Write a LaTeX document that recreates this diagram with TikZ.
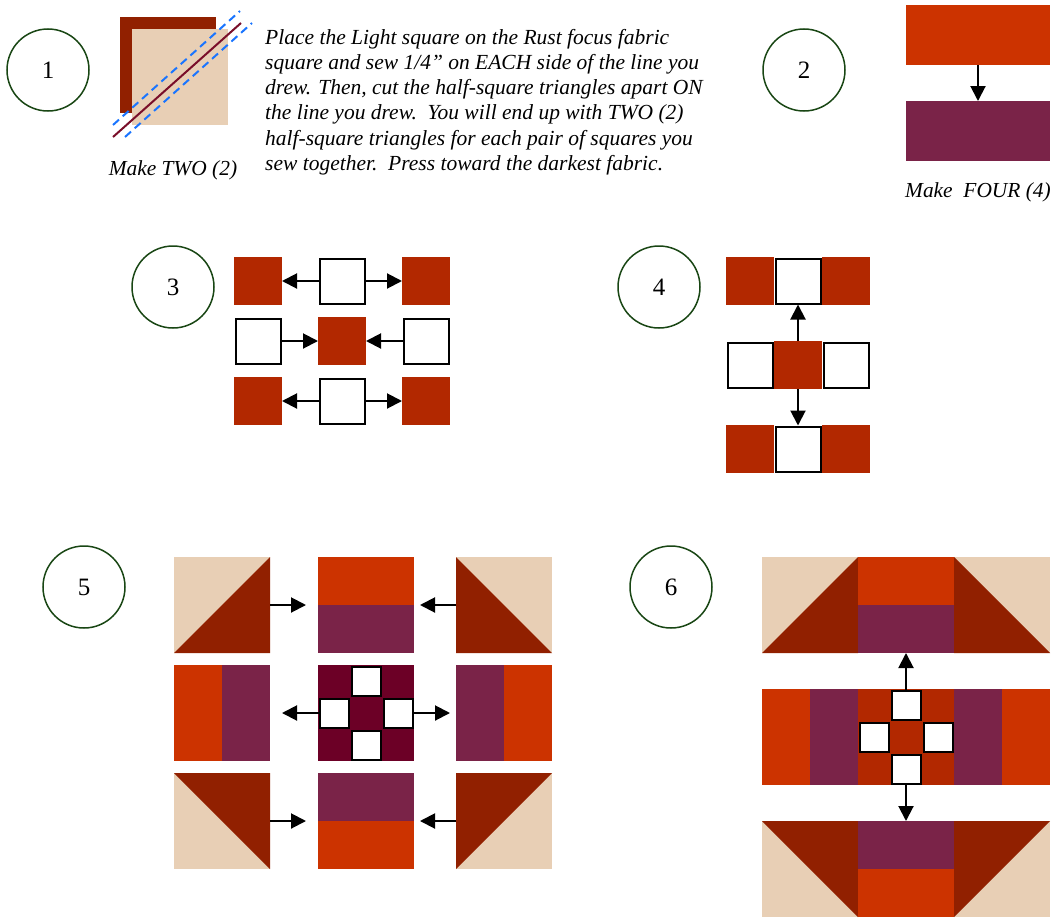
\documentclass[tikz,border=0pt]{standalone}
\usepackage{fontspec}
\setmainfont{Liberation Serif}
\usetikzlibrary{arrows.meta}
\definecolor{cOrange}{RGB}{204,51,0}
\definecolor{cPurple}{RGB}{122,35,72}
\definecolor{cDark}{RGB}{145,32,0}
\definecolor{cLight}{RGB}{232,207,181}
\definecolor{cRust}{RGB}{178,40,0}
\definecolor{cMaroon}{RGB}{108,0,38}
\definecolor{cGreen}{RGB}{25,70,20}
\definecolor{cBlue}{RGB}{26,117,255}
\definecolor{cSeam}{RGB}{122,15,42}
\begin{document}
\begin{tikzpicture}[x=1pt,y=-1pt,
  num/.style={circle, draw=cGreen, line width=1.5pt, minimum size=82pt, inner sep=0pt, font=\fontsize{25}{25}\selectfont},
  patch/.style={draw=none, inner sep=0pt, outer sep=0pt, minimum size=#1},
  patch/.default=48,
  bar/.style={draw=none, inner sep=0pt, outer sep=0pt, minimum width=#1},
  wsq/.style={draw=black, line width=2pt, fill=white, inner sep=0pt, minimum size=#1},
  wsq/.default=45,
  arr/.style={line width=2pt, -{Triangle[length=15pt,width=15pt]}},
  captext/.style={font=\fontsize{21.4}{24}\selectfont\itshape},
  sew/.style={cBlue, line width=2pt, dash pattern=on 8pt off 5pt}
]
\useasboundingbox (0,0) rectangle (1055,918);

% ---------- Step 1 ----------
\node[num] (n1) at (48,70) {1};
\node[patch=96, fill=cDark] (s1a) at (168,65) {};
\node[patch=96, fill=cLight] (s1b) at (180,77) {};
\coordinate (l1a) at (113,137); \coordinate (l1b) at (241,23);
\coordinate (d1a) at (113,125); \coordinate (d1b) at (240,11);
\coordinate (e1a) at (125,137); \coordinate (e1b) at (252,23);
\draw[sew] (d1a) -- (d1b);
\draw[sew] (e1a) -- (e1b);
\draw[cSeam, line width=2pt] (l1a) -- (l1b);
\node[captext] (t1) at (173,170) {Make TWO (2)};
\node[anchor=north west, inner sep=0pt, align=left, font=\fontsize{21.5}{25.2}\selectfont\itshape] (p1) at (265,29)
 {Place the Light square on the Rust focus fabric\\
  square and sew 1/4” on EACH side of the line you\\
  drew. Then, cut the half-square triangles apart ON\\
  the line you drew.\ \ You will end up with TWO (2)\\
  half-square triangles for each pair of squares you\\
  sew together.\ \ Press toward the darkest fabric.};

% ---------- Step 2 ----------
\node[num] (n2) at (804,70) {2};
\node[bar=144, minimum height=60, fill=cOrange] (o2) at (978,35) {};
\node[bar=144, minimum height=60, fill=cPurple] (p2) at (978,131) {};
\draw[arr] (o2.south) -- (p2.north);
\node[captext] (t2) at (978,192) {Make\ \ FOUR (4)};

% ---------- Step 3 ----------
\node[num] (n3) at (173,287) {3};
\node[patch, fill=cRust] (r3a) at (258,281) {};
\node[wsq] (w3a) at (342,281) {};
\node[patch, fill=cRust] (r3b) at (426,281) {};
\node[wsq] (w3c) at (258,341) {};
\node[patch, fill=cRust] (r3c) at (342,341) {};
\node[wsq] (w3d) at (426,341) {};
\node[patch, fill=cRust] (r3d) at (258,401) {};
\node[wsq] (w3e) at (342,401) {};
\node[patch, fill=cRust] (r3e) at (426,401) {};
\draw[arr] (w3a.west) -- (r3a.east);
\draw[arr] (w3a.east) -- (r3b.west);
\draw[arr] (w3c.east) -- (r3c.west);
\draw[arr] (w3d.west) -- (r3c.east);
\draw[arr] (w3e.west) -- (r3d.east);
\draw[arr] (w3e.east) -- (r3e.west);

% ---------- Step 4 ----------
\node[num] (n4) at (659,287) {4};
\node[patch, fill=cRust] (r4a) at (750,281) {};
\node[patch, fill=cRust] (r4b) at (846,281) {};
\node[wsq] (w4a) at (798,281) {};
\node[wsq] (w4b) at (750,365) {};
\node[patch, fill=cRust] (r4m) at (798,365) {};
\node[wsq] (w4c) at (846,365) {};
\node[patch, fill=cRust] (r4c) at (750,449) {};
\node[patch, fill=cRust] (r4d) at (846,449) {};
\node[wsq] (w4d) at (798,449) {};
\draw[arr] (r4m.north) -- (w4a.south);
\draw[arr] (r4m.south) -- (w4d.north);

% ---------- Step 5 ----------
\node[num] (n5) at (84,587) {5};
% top row
\node[patch=96] (h5a) at (222,605) {};
\fill[cLight] (h5a.north west) rectangle (h5a.south east);
\fill[cDark] (h5a.south west) -- (h5a.north east) -- (h5a.south east) -- cycle;
\node[bar=96, minimum height=48, fill=cOrange] (o5a) at (366,581) {};
\node[bar=96, minimum height=48, fill=cPurple] (p5a) at (366,629) {};
\node[patch=96] (h5b) at (504,605) {};
\fill[cLight] (h5b.north west) rectangle (h5b.south east);
\fill[cDark] (h5b.north west) -- (h5b.south east) -- (h5b.south west) -- cycle;
% middle row
\node[bar=48, minimum height=96, fill=cOrange] (o5b) at (198,713) {};
\node[bar=48, minimum height=96, fill=cPurple] (p5b) at (246,713) {};
\node[patch=96, fill=cMaroon] (m5) at (366,713) {};
\node[wsq=29] (w5t) at (366,681) {};
\node[wsq=29] (w5l) at (334,713) {};
\node[wsq=29] (w5r) at (398,713) {};
\node[wsq=29] (w5b) at (366,745) {};
\node[bar=48, minimum height=96, fill=cPurple] (p5c) at (480,713) {};
\node[bar=48, minimum height=96, fill=cOrange] (o5c) at (528,713) {};
% bottom row
\node[patch=96] (h5c) at (222,821) {};
\fill[cLight] (h5c.north west) rectangle (h5c.south east);
\fill[cDark] (h5c.north west) -- (h5c.north east) -- (h5c.south east) -- cycle;
\node[bar=96, minimum height=48, fill=cPurple] (p5d) at (366,797) {};
\node[bar=96, minimum height=48, fill=cOrange] (o5d) at (366,845) {};
\node[patch=96] (h5d) at (504,821) {};
\fill[cLight] (h5d.north west) rectangle (h5d.south east);
\fill[cDark] (h5d.north west) -- (h5d.north east) -- (h5d.south west) -- cycle;
% arrows
\coordinate (c5a) at (306,605); \coordinate (c5b) at (420,605);
\coordinate (c5c) at (282,713); \coordinate (c5d) at (450,713);
\coordinate (c5e) at (306,821); \coordinate (c5f) at (420,821);
\draw[arr] (h5a.east) -- (c5a);
\draw[arr] (h5b.west) -- (c5b);
\draw[arr] (w5l.west) -- (c5c);
\draw[arr] (w5r.east) -- (c5d);
\draw[arr] (h5c.east) -- (c5e);
\draw[arr] (h5d.west) -- (c5f);

% ---------- Step 6 ----------
\node[num] (n6) at (671,587) {6};
% top row
\node[patch=96] (h6a) at (810,605) {};
\fill[cLight] (h6a.north west) rectangle (h6a.south east);
\fill[cDark] (h6a.south west) -- (h6a.north east) -- (h6a.south east) -- cycle;
\node[bar=96, minimum height=48, fill=cOrange] (o6a) at (906,581) {};
\node[bar=96, minimum height=48, fill=cPurple] (p6a) at (906,629) {};
\node[patch=96] (h6b) at (1002,605) {};
\fill[cLight] (h6b.north west) rectangle (h6b.south east);
\fill[cDark] (h6b.north west) -- (h6b.south east) -- (h6b.south west) -- cycle;
% middle row
\node[bar=48, minimum height=96, fill=cOrange] (o6b) at (786,737) {};
\node[bar=48, minimum height=96, fill=cPurple] (p6b) at (834,737) {};
\node[patch=96, fill=cRust] (m6) at (906,737) {};
\node[wsq=29] (w6t) at (906,705) {};
\node[wsq=29] (w6l) at (874,737) {};
\node[wsq=29] (w6r) at (938,737) {};
\node[wsq=29] (w6b) at (906,769) {};
\node[bar=48, minimum height=96, fill=cPurple] (p6c) at (978,737) {};
\node[bar=48, minimum height=96, fill=cOrange] (o6c) at (1026,737) {};
% bottom row
\node[patch=96] (h6c) at (810,869) {};
\fill[cLight] (h6c.north west) rectangle (h6c.south east);
\fill[cDark] (h6c.north west) -- (h6c.north east) -- (h6c.south east) -- cycle;
\node[bar=96, minimum height=48, fill=cPurple] (p6d) at (906,845) {};
\node[bar=96, minimum height=48, fill=cOrange] (o6d) at (906,893) {};
\node[patch=96] (h6d) at (1002,869) {};
\fill[cLight] (h6d.north west) rectangle (h6d.south east);
\fill[cDark] (h6d.north west) -- (h6d.north east) -- (h6d.south west) -- cycle;
% arrows
\draw[arr] (w6t.north) -- (p6a.south);
\draw[arr] (w6b.south) -- (p6d.north);
\end{tikzpicture}
\end{document}
